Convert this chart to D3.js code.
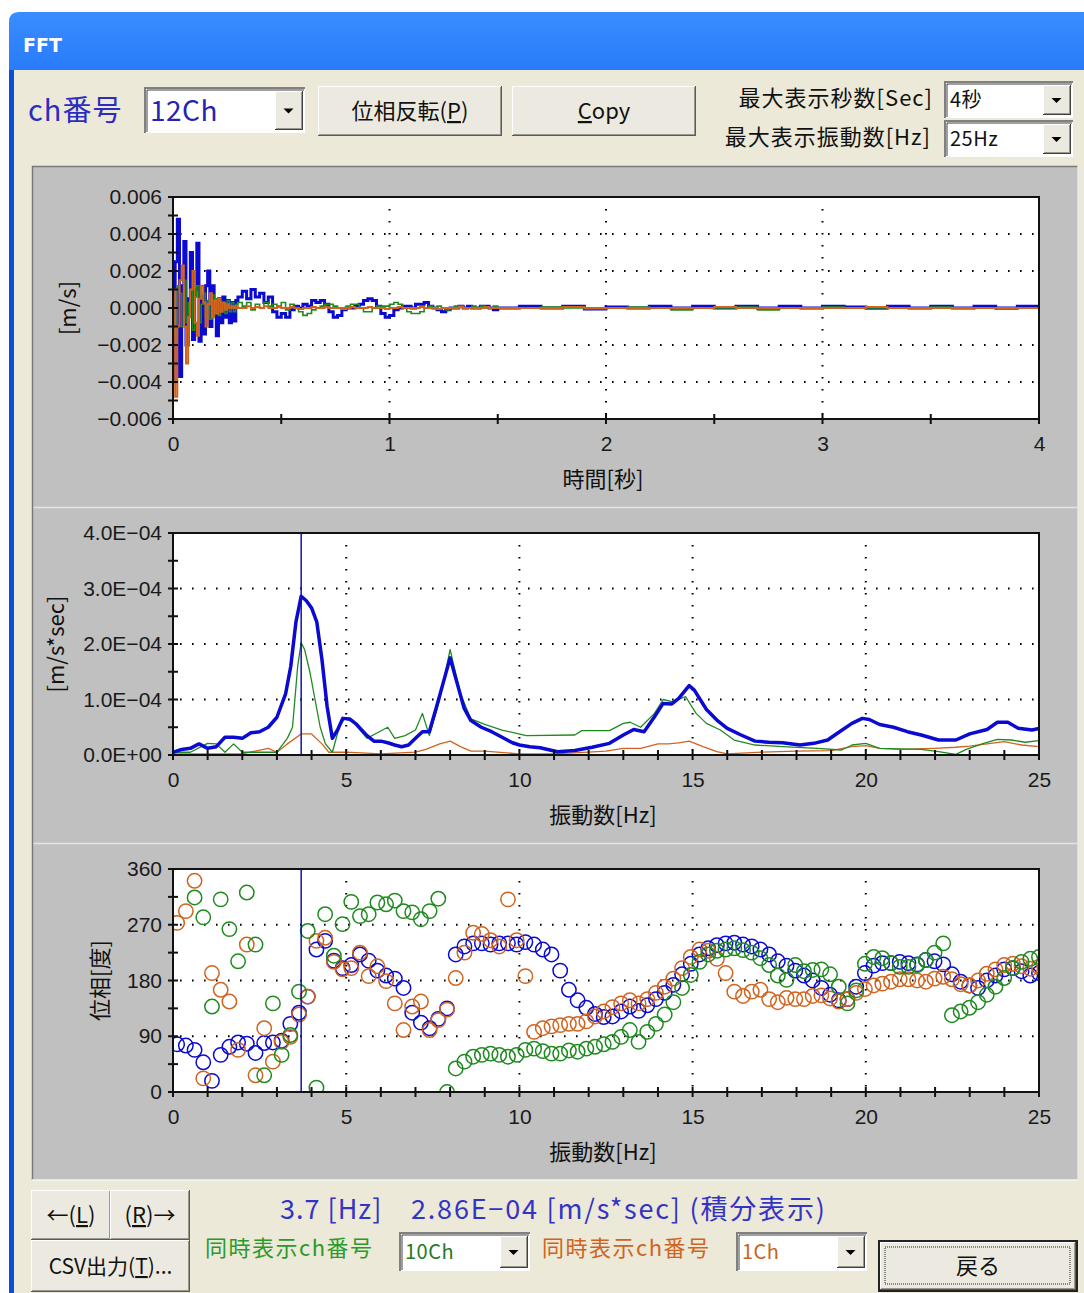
<!DOCTYPE html>
<html>
<head>
<meta charset="utf-8">
<script src="https://cdn.jsdelivr.net/npm/d3@7"></script>
<style>
  body { margin: 0; background: #fff; }
  svg { display: block; }
  text { font-family: "Liberation Sans", Arial, sans-serif; }
  .jp { font-family: "Noto Sans CJK JP", sans-serif; }
</style>
</head>
<body>
<script>
// ---------------- data ----------------
// time domain (x0.001 m/s), three segments of sample times
var waveTime = [].concat(
  d3.range(31).map(function(i){ return i * 0.01; }),
  d3.range(60).map(function(i){ return 0.32 + i * 0.02; }),
  d3.range(25).map(function(i){ return 1.6 + i * 0.1; })
);
var waveBlue = [
  -4.0, 2.5, 4.8, -3.7, 1.2, 3.6, -2.0, 0.5, 3.0, -1.7, 1.0, 3.5, -1.8, 0.6, -1.4, 1.2,
  2.0, -1.0, 1.2, -0.4, -1.5, 0.5, -0.8, 0.6, -0.5, 0.4, -0.8, 0.3, -0.7, 0.4, 0.6,
  0.9, 0.5, 1.0, 0.6, 0.8, 0.3, 0.6, -0.2, -0.5, -0.3, -0.5, -0.1, 0.1, 0.0, 0.2, 0.1,
  0.4, 0.3, 0.4, 0.2, -0.2, -0.5, -0.4, -0.1, 0.0, 0.0, 0.1, 0.2, 0.4, 0.5, 0.4, 0.1,
  -0.3, -0.5, -0.4, -0.1, 0.0, 0.1, 0.1, 0.0, 0.2, 0.2, 0.3, 0.1, 0.0, -0.1, -0.2, -0.1,
  0.0, 0.0, 0.1, 0.0, 0.1, 0.0, 0.0, 0.1, 0.1, 0.0, -0.1, 0.0,
  0.1, 0.0, 0.1, -0.05, 0.05, 0.0, 0.1, 0.0, 0.1, 0.0, 0.1, 0.0, 0.1, 0.0, 0.1, 0.05,
  0.0, 0.1, 0.0, 0.1, 0.0, 0.1, 0.0, 0.1, 0.0
];
var waveGreen = [
  0.5, -1.5, 1.2, 0.8, -1.0, 1.5, -0.8, 0.3, 1.0, -1.2, 0.6, 1.2, -0.8, 0.2, 0.8, -0.5,
  0.4, -0.6, 0.7, -0.3, 0.5, -0.4, 0.3, 0.2, -0.3, 0.4, -0.2, 0.3, -0.2, 0.2, 0.3,
  0.1, 0.3, -0.1, 0.2, 0.0, 0.3, 0.1, 0.2, 0.1, 0.3, -0.1, 0.2, 0.0, -0.2, -0.4, -0.3,
  -0.1, 0.0, 0.1, 0.2, 0.2, 0.1, 0.0, 0.0, 0.1, 0.2, 0.2, 0.0, -0.2, -0.2, 0.0, 0.1,
  0.1, 0.1, 0.2, 0.3, 0.2, 0.0, -0.2, -0.3, -0.3, -0.2, 0.0, 0.1, 0.0, 0.1, 0.0, -0.1,
  0.0, 0.1, 0.1, 0.0, 0.0, 0.1, 0.0, 0.1, 0.0, 0.0, 0.1, 0.0,
  0.0, 0.05, 0.0, -0.05, 0.0, 0.05, 0.0, -0.1, 0.0, 0.0, 0.05, -0.1, 0.0, 0.0, 0.05, 0.0,
  -0.05, 0.0, 0.0, 0.05, 0.0, 0.0, -0.05, 0.0, 0.0
];
var waveOrange = [
  1.0, -4.8, -1.0, 1.5, 2.3, -1.0, -3.0, -0.5, 1.0, 2.0, -0.8, -1.5, 0.5, 1.2, 0.3, -1.0,
  0.2, 0.8, -0.5, 0.4, -0.3, 0.5, -0.2, 0.3, -0.1, 0.2, 0.0, 0.1, 0.0, 0.1, 0.0,
  0.0, 0.1, 0.0, 0.05, 0.0, 0.1, 0.0, 0.0, 0.05, 0.0, 0.0, 0.05, 0.0, -0.05, 0.0, 0.0,
  0.05, 0.0, 0.0, 0.05, 0.0, 0.0, 0.0, -0.05, 0.0, 0.05, 0.0, 0.0, 0.0, 0.05, 0.0, 0.0,
  0.0, -0.05, 0.0, 0.0, 0.05, 0.0, 0.0, 0.0, 0.0, 0.05, 0.0, 0.0, 0.0, -0.05, 0.0, 0.0,
  0.0, 0.0, 0.05, 0.0, 0.0, 0.0, 0.0, 0.0, 0.05, 0.0, 0.0, 0.0,
  0.0, 0.0, 0.05, 0.0, 0.0, 0.0, 0.0, 0.0, 0.0, 0.05, 0.0, 0.0, 0.0, 0.0, 0.0, 0.0,
  0.05, 0.0, 0.0, 0.0, 0.0, 0.0, 0.0, 0.0, 0.0
];

// spectrum amplitude (x1E-04 m/s*sec) : [Hz, value]
var specBlue = [
  [0,0.05],[0.25,0.1],[0.5,0.12],[0.75,0.2],[1.0,0.12],[1.25,0.15],[1.5,0.32],[1.75,0.32],
  [2.0,0.3],[2.25,0.4],[2.5,0.42],[2.75,0.5],[3.0,0.68],[3.25,1.1],[3.4,1.6],[3.55,2.4],
  [3.7,2.86],[3.85,2.78],[4.0,2.65],[4.15,2.4],[4.3,1.72],[4.45,0.87],[4.6,0.3],[4.75,0.45],
  [4.9,0.66],[5.1,0.65],[5.3,0.55],[5.6,0.35],[5.8,0.25],[6.0,0.25],[6.2,0.22],[6.4,0.18],
  [6.6,0.15],[6.8,0.18],[7.0,0.3],[7.2,0.42],[7.4,0.42],[7.6,0.85],[7.8,1.3],[8.0,1.75],
  [8.2,1.3],[8.4,0.85],[8.6,0.62],[8.9,0.5],[9.2,0.42],[9.5,0.32],[9.8,0.22],[10.0,0.18],
  [10.3,0.15],[10.6,0.13],[11.1,0.06],[11.6,0.08],[12.1,0.14],[12.6,0.21],[13.0,0.36],
  [13.3,0.46],[13.6,0.42],[13.9,0.69],[14.15,0.93],[14.4,0.92],[14.6,1.02],[14.9,1.25],
  [15.05,1.17],[15.4,0.82],[15.7,0.63],[16.0,0.48],[16.4,0.36],[16.8,0.25],[17.2,0.23],
  [17.6,0.22],[18.1,0.18],[18.5,0.21],[18.9,0.27],[19.2,0.4],[19.6,0.57],[19.9,0.66],
  [20.1,0.64],[20.4,0.55],[20.8,0.5],[21.2,0.42],[21.6,0.36],[22.1,0.27],[22.6,0.27],
  [23.0,0.38],[23.5,0.46],[23.8,0.59],[24.1,0.59],[24.4,0.48],[24.8,0.45],[25.0,0.48]
];
var specGreen = [
  [0,0.05],[0.5,0.05],[1.0,0.21],[1.25,0.2],[1.5,0.05],[1.75,0.2],[2.0,0.05],[2.5,0.05],
  [3.0,0.05],[3.3,0.3],[3.45,0.5],[3.6,1.6],[3.7,2.02],[3.8,1.9],[3.95,1.5],[4.1,1.0],
  [4.25,0.5],[4.4,0.2],[4.6,0.05],[4.8,0.5],[4.95,0.65],[5.2,0.6],[5.4,0.45],[5.6,0.3],
  [5.9,0.4],[6.2,0.5],[6.4,0.3],[6.7,0.35],[7.0,0.45],[7.2,0.75],[7.4,0.35],[7.7,1.0],
  [8.0,1.9],[8.3,1.1],[8.6,0.65],[9.0,0.55],[9.5,0.45],[10.2,0.35],[11.6,0.36],[11.8,0.44],
  [12.6,0.44],[13.0,0.57],[13.2,0.59],[13.5,0.5],[13.9,0.75],[14.15,1.0],[14.4,0.96],
  [14.8,1.05],[15.1,0.75],[15.4,0.57],[15.8,0.45],[16.2,0.27],[16.8,0.18],[17.6,0.15],
  [18.6,0.12],[19.3,0.09],[19.6,0.18],[20.0,0.21],[20.4,0.12],[21.6,0.1],[22.1,0.06],
  [22.6,0.01],[22.9,0.1],[23.4,0.21],[23.8,0.28],[24.2,0.27],[24.6,0.23],[25.0,0.26]
];
var specOrange = [
  [0,0.02],[1.0,0.02],[2.0,0.02],[2.75,0.12],[3.0,0.05],[3.3,0.2],[3.7,0.38],[4.0,0.38],
  [4.3,0.2],[4.5,0.05],[5.0,0.05],[6.0,0.02],[7.0,0.05],[7.3,0.1],[7.7,0.2],[8.0,0.25],
  [8.3,0.15],[8.6,0.07],[9.0,0.07],[10.0,0.02],[11.0,0.02],[12.0,0.05],[12.5,0.07],
  [13.0,0.12],[13.5,0.12],[14.0,0.2],[14.3,0.2],[14.6,0.22],[14.9,0.25],[15.3,0.15],
  [15.7,0.06],[16.0,0.02],[17.0,0.05],[18.0,0.07],[19.0,0.08],[19.6,0.15],[20.0,0.17],
  [20.4,0.12],[21.0,0.1],[22.0,0.12],[22.6,0.14],[23.0,0.16],[23.5,0.2],[24.0,0.24],
  [24.5,0.18],[25.0,0.15]
];

// phase (degrees) on a common frequency grid, 100 points from 0.12 to 25 Hz
var phaseFreq = d3.range(100).map(function(i){ return 0.12 + i * 24.88 / 99; });
var phaseBlue = [
  77, 75, 68, 48, 18, 60, 73, 80, 78, 63, 79, 80, 83, 110, 128, 154, 230, 244, 212, 200,
  205, 222, 212, 196, 188, 183, 168, 128, 112, 103, 118, 135, 222, 235, 240, 240, 238, 240, 240, 238,
  242, 238, 230, 222, 196, 165, 148, 136, 126, 121, 122, 130, 138, 131, 140, 150, 160, 173, 190, 207,
  222, 232, 237, 240, 241, 238, 235, 230, 222, 211, 204, 196, 188, 180, 168, 157, 148, 150, 170, 192,
  204, 208, 208, 210, 208, 206, 213, 211, 206, 190, 178, 172, 168, 180, 188, 198, 200, 195, 188, 192
];
var phaseGreen = [
  null, null, 314, 282, 138, 311, 263, 211, 322, 238, 27, 143, 60, 92, 162, 260, 7, 287, 220, 271,
  307, 284, 287, 306, 303, 309, 292, 290, 279, 292, 312, 0, 38, 49, 57, 60, 62, 60, 57, 60,
  68, 70, 66, 62, 62, 67, 65, 70, 73, 77, 81, 89, 100, 81, 97, 110, 125, 145, 168, 189,
  210, 222, 228, 230, 232, 229, 225, 216, 205, 188, 181, 205, 195, 197, 198, 190, 170, 143, 164, 207,
  218, 216, 208, 202, 202, 205, 213, 225, 240, 124, 130, 136, 145, 157, 170, 184, 200, 210, 215, 218
];
var phaseOrange = [
  273, 292, 341, 22, 192, 165, 146, 68, 238, 27, 103, 49, 81, 89, 125, 154, 244, 249, 210, 198,
  200, 225, 187, 203, 179, 143, 100, 138, 146, 100, 116, 133, 184, 225, 257, 255, 245, 235, 311, 245,
  187, 97, 103, 106, 108, 110, 110, 114, 122, 130, 137, 143, 148, 143, 150, 160, 170, 183, 200, 218,
  230, 228, 215, 192, 162, 155, 162, 165, 150, 145, 152, 150, 150, 155, 156, 151, 146, 150, 160, 166,
  172, 175, 178, 182, 182, 180, 178, 183, 186, 182, 174, 172, 180, 191, 198, 205, 207, 203, 199, 202
];

var cursorHz = 3.7;
var chOptions = ["12Ch", "10Ch", "1Ch"];
var secTicks = [0, 1, 2, 3, 4];
var hzTicks = [0, 5, 10, 15, 20, 25];
var velTicks = [-6, -4, -2, 0, 2, 4, 6];
var ampTicks = [0, 1, 2, 3, 4];
var phaseTicks = [0, 90, 180, 270, 360];

// ---------------- colours ----------------
var BLUE = "#0a0ad0", GREEN = "#1f8a1f", ORANGE = "#d0641e";
var BODY = "#ECE9D8", PANEL = "#C0C0C0";

var W = 1084, H = 1293;
var svg = d3.select("body").append("svg").attr("width", W).attr("height", H);

var defs = svg.append("defs");
var tg = defs.append("linearGradient").attr("id", "title").attr("x1", 0).attr("y1", 0).attr("x2", 0).attr("y2", 1);
tg.append("stop").attr("offset", "0%").attr("stop-color", "#3a8cff");
tg.append("stop").attr("offset", "12%").attr("stop-color", "#0a62f0");
tg.append("stop").attr("offset", "55%").attr("stop-color", "#0056e6");
tg.append("stop").attr("offset", "88%").attr("stop-color", "#0049d4");
tg.append("stop").attr("offset", "100%").attr("stop-color", "#0838b0");

// window frame
svg.append("path")
  .attr("d", "M9,1293 L9,22 Q9,12 19,12 L1084,12 L1084,1293 Z")
  .attr("fill", "url(#title)");
svg.append("rect").attr("x", 9).attr("y", 70).attr("width", 5).attr("height", H - 70).attr("fill", "#0a4fd8");
svg.append("rect").attr("x", 14).attr("y", 70).attr("width", W - 14).attr("height", H - 70).attr("fill", BODY);
svg.append("text").attr("x", 23).attr("y", 52).text("FFT")
  .style("font-family", "'DejaVu Sans', sans-serif").style("font-weight", "bold")
  .style("font-size", "19px").attr("fill", "#fff");

// ---------------- widgets ----------------
function button(x, y, w, h, label, opts) {
  opts = opts || {};
  var g = svg.append("g");
  if (opts.isDefault) {
    g.append("rect").attr("x", x).attr("y", y).attr("width", w).attr("height", h).attr("fill", "#222");
    x += 2; y += 2; w -= 4; h -= 4;
  }
  g.append("rect").attr("x", x).attr("y", y).attr("width", w).attr("height", h).attr("fill", "#5a5a5a");
  g.append("rect").attr("x", x).attr("y", y).attr("width", w - 1).attr("height", h - 1).attr("fill", "#fff");
  g.append("rect").attr("x", x + 1).attr("y", y + 1).attr("width", w - 2).attr("height", h - 2).attr("fill", "#9a988c");
  g.append("rect").attr("x", x + 1).attr("y", y + 1).attr("width", w - 3).attr("height", h - 3).attr("fill", "#ECEAE0");
  if (opts.isDefault) {
    g.append("rect").attr("x", x + 5).attr("y", y + 5).attr("width", w - 11).attr("height", h - 11)
      .attr("fill", "none").attr("stroke", "#222").attr("stroke-dasharray", "1,1");
  }
  var t = g.append("text").attr("class", "jp")
    .attr("x", x + w / 2).attr("y", y + h / 2 + 8)
    .attr("text-anchor", "middle").style("font-size", (opts.size || 22) + "px").attr("fill", "#111");
  label.forEach(function(p) {
    var s = t.append("tspan").text(p.t);
    if (p.u) s.style("text-decoration", "underline");
  });
}

function combo(x, y, w, h, value, color, size) {
  var g = svg.append("g");
  g.append("rect").attr("x", x).attr("y", y).attr("width", w).attr("height", h).attr("fill", "#fff");
  g.append("path").attr("d", "M" + x + "," + (y + h) + " V" + y + " H" + (x + w))
    .attr("fill", "none").attr("stroke", "#808080").attr("stroke-width", 2);
  g.append("path").attr("d", "M" + (x + 2) + "," + (y + h - 1) + " V" + (y + 2) + " H" + (x + w - 1))
    .attr("fill", "none").attr("stroke", "#404040").attr("stroke-width", 1);
  var bw = 28;
  var bx = x + w - bw - 2, by = y + 3, bh = h - 6;
  g.append("rect").attr("x", bx).attr("y", by).attr("width", bw).attr("height", bh).attr("fill", "#404040");
  g.append("rect").attr("x", bx).attr("y", by).attr("width", bw - 1).attr("height", bh - 1).attr("fill", "#fff");
  g.append("rect").attr("x", bx + 1).attr("y", by + 1).attr("width", bw - 2).attr("height", bh - 2).attr("fill", "#9a988c");
  g.append("rect").attr("x", bx + 1).attr("y", by + 1).attr("width", bw - 3).attr("height", bh - 3).attr("fill", "#ECEAE0");
  var cx = bx + bw / 2 - 0.5, cy = by + bh / 2;
  g.append("path").attr("d", "M" + (cx - 5) + "," + (cy - 2) + " h10 l-5,5 z").attr("fill", "#000");
  g.append("text").attr("class", "jp").attr("x", x + 5).attr("y", y + h / 2 + (size * 0.36))
    .style("font-size", size + "px").style("letter-spacing", "0.5px").attr("fill", color).text(value);
}

// top row
svg.append("text").attr("class", "jp").attr("x", 28).attr("y", 121).text("ch番号")
  .style("font-size", "29px").style("letter-spacing", "1px").attr("fill", "#2c2cc0");
combo(145, 88, 160, 45, chOptions[0], "#2424b0", 28);
button(318, 86, 184, 50, [{t: "位相反転("}, {t: "P", u: true}, {t: ")"}]);
button(512, 86, 184, 50, [{t: "C", u: true}, {t: "opy"}]);
svg.append("text").attr("class", "jp").attr("x", 933).attr("y", 106).attr("text-anchor", "end")
  .style("font-size", "22px").style("letter-spacing", "1px").attr("fill", "#111").text("最大表示秒数[Sec]");
svg.append("text").attr("class", "jp").attr("x", 931).attr("y", 145).attr("text-anchor", "end")
  .style("font-size", "22px").style("letter-spacing", "1px").attr("fill", "#111").text("最大表示振動数[Hz]");
combo(945, 82, 128, 36, "4秒", "#111", 20);
combo(945, 121, 128, 36, "25Hz", "#111", 20);

// chart panel background
var panelX = 32, panelR = 1078;
[[166, 507], [507, 843], [843, 1180]].forEach(function(p) {
  svg.append("rect").attr("x", panelX).attr("y", p[0]).attr("width", panelR - panelX).attr("height", p[1] - p[0])
    .attr("fill", PANEL);
  svg.append("line").attr("x1", panelX).attr("x2", panelR).attr("y1", p[0] + 0.5).attr("y2", p[0] + 0.5)
    .attr("stroke", p[0] === 166 ? "#7a7a7a" : "#e4e4e4").attr("stroke-width", 1.5);
});
svg.append("line").attr("x1", panelX + 0.5).attr("x2", panelX + 0.5).attr("y1", 166).attr("y2", 1180)
  .attr("stroke", "#7a7a7a").attr("stroke-width", 1.5);
svg.append("line").attr("x1", panelX).attr("x2", panelR).attr("y1", 1180).attr("y2", 1180)
  .attr("stroke", "#f4f4f4").attr("stroke-width", 1.5);
svg.append("line").attr("x1", panelR).attr("x2", panelR).attr("y1", 166).attr("y2", 1180)
  .attr("stroke", "#e8e8e8").attr("stroke-width", 1.5);

// ---------------- chart builder ----------------
function chart(cfg) {
  var x = d3.scaleLinear().domain(cfg.xDomain).range([173, 1039]);
  var y = d3.scaleLinear().domain(cfg.yDomain).range([cfg.bottom, cfg.top]);
  var g = svg.append("g");
  g.append("rect").attr("x", 173).attr("y", cfg.top).attr("width", 1039 - 173).attr("height", cfg.bottom - cfg.top)
    .attr("fill", "#fff");

  var clipId = "clip" + cfg.top;
  defs.append("clipPath").attr("id", clipId).append("rect")
    .attr("x", 173).attr("y", cfg.top).attr("width", 1039 - 173).attr("height", cfg.bottom - cfg.top);

  // dotted grid
  var grid = g.append("g").attr("stroke", "#000").attr("stroke-width", 2).attr("stroke-dasharray", "1.6,10.4");
  cfg.xGrid.forEach(function(v) {
    grid.append("line").attr("x1", x(v)).attr("x2", x(v)).attr("y1", cfg.top + 12).attr("y2", cfg.bottom);
  });
  cfg.yGrid.forEach(function(v) {
    grid.append("line").attr("x1", 180).attr("x2", 1039).attr("y1", y(v)).attr("y2", y(v));
  });

  var plot = g.append("g").attr("clip-path", "url(#" + clipId + ")");
  cfg.draw(plot, x, y);

  // frame
  g.append("rect").attr("x", 173).attr("y", cfg.top).attr("width", 1039 - 173).attr("height", cfg.bottom - cfg.top)
    .attr("fill", "none").attr("stroke", "#111").attr("stroke-width", 2);

  // crossing ticks
  var tk = g.append("g").attr("stroke", "#111").attr("stroke-width", 2);
  cfg.xMinor.forEach(function(v) {
    tk.append("line").attr("x1", x(v)).attr("x2", x(v)).attr("y1", cfg.bottom - 5).attr("y2", cfg.bottom + 5);
  });
  cfg.yMinor.forEach(function(v) {
    tk.append("line").attr("x1", 168).attr("x2", 178).attr("y1", y(v)).attr("y2", y(v));
  });

  // axis labels via d3 axes
  var ax = g.append("g").attr("transform", "translate(0," + cfg.bottom + ")")
    .call(d3.axisBottom(x).tickValues(cfg.xTicks).tickFormat(d3.format("d")).tickSize(0).tickPadding(17));
  var ay = g.append("g").attr("transform", "translate(173,0)")
    .call(d3.axisLeft(y).tickValues(cfg.yTicks).tickFormat(cfg.yFormat).tickSize(0).tickPadding(11));
  [ax, ay].forEach(function(a) {
    a.select(".domain").remove();
    a.selectAll("text").style("font-family", "'Liberation Sans', Arial, sans-serif")
      .style("font-size", "21px").attr("fill", "#1a1a1a");
  });
  ax.selectAll("text").attr("dy", "0.7em");

  g.append("text").attr("class", "jp").attr("x", 603).attr("y", cfg.bottom + 68).attr("text-anchor", "middle")
    .style("font-size", "22px").attr("fill", "#111").text(cfg.xTitle);
  g.append("text").attr("class", "jp").attr("text-anchor", "middle")
    .attr("transform", "translate(" + cfg.yTitleX + "," + (cfg.top + cfg.bottom) / 2 + ") rotate(-90)")
    .style("font-size", "22px").attr("fill", "#111").text(cfg.yTitle);
  return {x: x, y: y};
}

function stepRange(a, b, s) { return d3.range(Math.round((b - a) / s) + 1).map(function(i){ return a + i * s; }); }

function minusFmt(s) { return s.replace("-", "\u2212"); }

// chart 1: time history
chart({
  top: 197, bottom: 419, xDomain: [0, 4], yDomain: [-6, 6],
  xTicks: secTicks, yTicks: velTicks,
  yFormat: function(v) { return minusFmt(d3.format(".3f")(v / 1000)); },
  xGrid: [1, 2, 3], yGrid: [-4, -2, 2, 4],
  xMinor: stepRange(0, 4, 0.5), yMinor: stepRange(-6, 6, 1),
  xTitle: "時間[秒]", yTitle: "[m/s]", yTitleX: 76,
  draw: function(p, x, y) {
    [[waveBlue, BLUE, 3], [waveGreen, GREEN, 1.6], [waveOrange, ORANGE, 2]].forEach(function(s) {
      var line = d3.line().curve(d3.curveStepAfter)
        .x(function(d, i){ return x(waveTime[i]); }).y(function(d){ return y(d); });
      p.append("path").datum(s[0]).attr("d", line).attr("fill", "none")
        .attr("stroke", s[1]).attr("stroke-width", s[2]);
    });
  }
});

// chart 2: amplitude spectrum
chart({
  top: 533, bottom: 755, xDomain: [0, 25], yDomain: [0, 4],
  xTicks: hzTicks, yTicks: ampTicks,
  yFormat: function(v) { return minusFmt(v === 0 ? "0.0E+00" : v.toFixed(1) + "E-04"); },
  xGrid: [5, 10, 15, 20], yGrid: [1, 2, 3],
  xMinor: stepRange(0, 25, 1), yMinor: stepRange(0, 4, 0.5),
  xTitle: "振動数[Hz]", yTitle: "[m/s*sec]", yTitleX: 64,
  draw: function(p, x, y) {
    var line = d3.line().x(function(d){ return x(d[0]); }).y(function(d){ return y(d[1]); });
    [[specOrange, ORANGE, 1.3], [specGreen, GREEN, 1.3], [specBlue, BLUE, 3.5]].forEach(function(s) {
      p.append("path").datum(s[0]).attr("d", line).attr("fill", "none")
        .attr("stroke", s[1]).attr("stroke-width", s[2]).attr("stroke-linejoin", "round");
    });
    p.append("line").attr("x1", x(cursorHz)).attr("x2", x(cursorHz)).attr("y1", 533).attr("y2", 755)
      .attr("stroke", "#1010b0").attr("stroke-width", 1.5);
  }
});

// chart 3: phase
chart({
  top: 869, bottom: 1092, xDomain: [0, 25], yDomain: [0, 360],
  xTicks: hzTicks, yTicks: phaseTicks,
  yFormat: d3.format("d"),
  xGrid: [5, 10, 15, 20], yGrid: [90, 180, 270],
  xMinor: stepRange(0, 25, 1), yMinor: stepRange(0, 360, 45),
  xTitle: "振動数[Hz]", yTitle: "位相[度]", yTitleX: 108,
  draw: function(p, x, y) {
    [[phaseBlue, BLUE], [phaseOrange, ORANGE], [phaseGreen, GREEN]].forEach(function(s) {
      p.selectAll(null).data(s[0].map(function(v, i){ return [phaseFreq[i], v]; })
          .filter(function(d){ return d[1] !== null; }))
        .enter().append("circle")
        .attr("cx", function(d){ return x(d[0]); }).attr("cy", function(d){ return y(d[1]); })
        .attr("r", 7.2).attr("fill", "none").attr("stroke", s[1]).attr("stroke-width", 1.5);
    });
    p.append("line").attr("x1", x(cursorHz)).attr("x2", x(cursorHz)).attr("y1", 869).attr("y2", 1092)
      .attr("stroke", "#1010b0").attr("stroke-width", 1.5);
  }
});

// ---------------- bottom row ----------------
button(31, 1190, 80, 50, [{t: "←("}, {t: "L", u: true}, {t: ")"}]);
button(110, 1190, 80, 50, [{t: "("}, {t: "R", u: true}, {t: ")→"}]);
button(31, 1240, 159, 52, [{t: "CSV出力("}, {t: "T", u: true}, {t: ")..."}], {size: 21});

svg.append("text").attr("class", "jp").attr("x", 280).attr("y", 1219)
  .style("font-size", "27px").style("letter-spacing", "1px").attr("fill", "#3434c4")
  .text(cursorHz.toFixed(1) + " [Hz]");
svg.append("text").attr("class", "jp").attr("x", 411).attr("y", 1219)
  .style("font-size", "27px").style("letter-spacing", "1.8px").attr("fill", "#3434c4")
  .text("2.86E\u221204 [m/s*sec] (積分表示)");

svg.append("text").attr("class", "jp").attr("x", 205).attr("y", 1256)
  .style("font-size", "22px").style("letter-spacing", "1.5px").attr("fill", "#2a9a2a").text("同時表示ch番号");
combo(400, 1233, 130, 38, chOptions[1], "#1f7a1f", 20);
svg.append("text").attr("class", "jp").attr("x", 542).attr("y", 1256)
  .style("font-size", "22px").style("letter-spacing", "1.5px").attr("fill", "#d0641e").text("同時表示ch番号");
combo(737, 1233, 130, 38, chOptions[2], "#c8641e", 20);
button(878, 1240, 200, 52, [{t: "戻る"}], {isDefault: true});
</script>
</body>
</html>
